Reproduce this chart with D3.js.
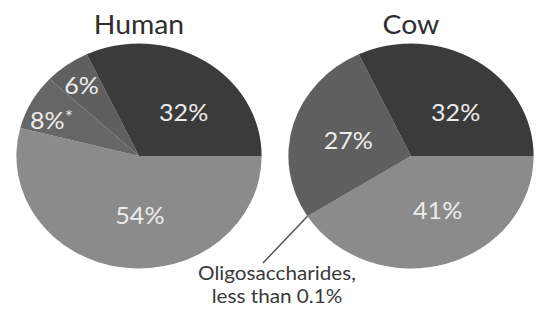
<!DOCTYPE html>
<html>
<head>
<meta charset="utf-8">
<script src="https://cdn.jsdelivr.net/npm/d3@7"></script>
<style>
  body { margin: 0; background: #fff; }
  text { font-family: Lato, "Open Sans", sans-serif; }
</style>
</head>
<body>
<div id="chart"></div>
<script>
// data
const titles = ['Human', 'Cow'];
const sliceKeys = ['lactose', 'oligo', 'other', 'fat'];
const humanValues = [54, 8, 6, 32];
const humanLabels = ['54%', '8%', '6%', '32%'];
const cowValues = [41, 0, 27, 32];
const cowLabels = ['41%', '', '27%', '32%'];
const noteLines = ['Oligosaccharides,', 'less than 0.1%'];

const W = 537, H = 310;
const sx = 1.09;            // source picture is stretched horizontally
const r = 112.5, cy = 156;
const centers = [139 / sx, 411 / sx];
const colors = {
  Human: ['#8b8b8b', '#666666', '#5f5f5f', '#3b3b3b'],
  Cow: ['#8b8b8b', '#5f5f5f', '#5f5f5f', '#3b3b3b']
};
// label angle nudge (degrees) per slice key
const nudge = { lactose: -8, oligo: -5, other: -1, fat: 11 };

const svg = d3.select('#chart').append('svg').attr('width', W).attr('height', H);
const root = svg.append('g').attr('transform', `scale(${sx},1)`);

const pie = d3.pie().sort(null).value(d => d.value)
  .startAngle(Math.PI / 2).endAngle(Math.PI / 2 + 2 * Math.PI);
const arc = d3.arc().innerRadius(0).outerRadius(r);

const sets = [
  { title: titles[0], values: humanValues, labels: humanLabels },
  { title: titles[1], values: cowValues, labels: cowLabels }
];

let oligoAngle = null;

sets.forEach((s, i) => {
  const items = sliceKeys.map((k, j) => ({ key: k, value: s.values[j], label: s.labels[j], color: colors[s.title][j] }));
  const arcs = pie(items);
  const g = root.append('g').attr('transform', `translate(${centers[i]},${cy})`);

  g.selectAll('path').data(arcs.filter(d => d.data.value > 0)).join('path')
    .attr('d', arc).attr('fill', d => d.data.color);

  g.append('text').attr('x', 0).attr('y', -r - 10).attr('text-anchor', 'middle')
    .style('font-size', '26px').style('fill', '#2e2e2e').text(s.title);

  g.selectAll('text.lbl').data(arcs.filter(d => d.data.label)).join('text')
    .attr('class', 'lbl')
    .attr('transform', d => {
      const f = d.data.value < 10 ? 0.78 : 0.53;
      const a = (d.startAngle + d.endAngle) / 2 + nudge[d.data.key] * Math.PI / 180;
      return `translate(${Math.sin(a) * r * f},${-Math.cos(a) * r * f})`;
    })
    .attr('text-anchor', 'middle').attr('dy', '0.36em')
    .style('font-size', '23px').style('fill', '#ececec')
    .each(function (d) {
      const t = d3.select(this);
      t.append('tspan').text(d.data.label);
      if (s.title === 'Human' && d.data.key === 'oligo') {
        t.append('tspan').attr('dy', '-0.35em').style('font-size', '18px').text('*');
      }
    });

  if (s.title === 'Cow') {
    const o = arcs.find(d => d.data.key === 'oligo');
    oligoAngle = { a: o.startAngle, cx: centers[i] };
  }
});

// leader line to the note
const lx = 263 / sx, ly = 263;
root.append('line')
  .attr('x1', oligoAngle.cx + Math.sin(oligoAngle.a) * r)
  .attr('y1', cy - Math.cos(oligoAngle.a) * r)
  .attr('x2', lx).attr('y2', ly)
  .attr('stroke', '#555').attr('stroke-width', 1.4);

root.selectAll('text.note').data(noteLines).join('text')
  .attr('class', 'note')
  .attr('x', 277 / sx).attr('y', (d, i) => 280 + i * 23)
  .attr('text-anchor', 'middle')
  .style('font-size', '19px').style('fill', '#3a3a3a')
  .text(d => d);
</script>
</body>
</html>
